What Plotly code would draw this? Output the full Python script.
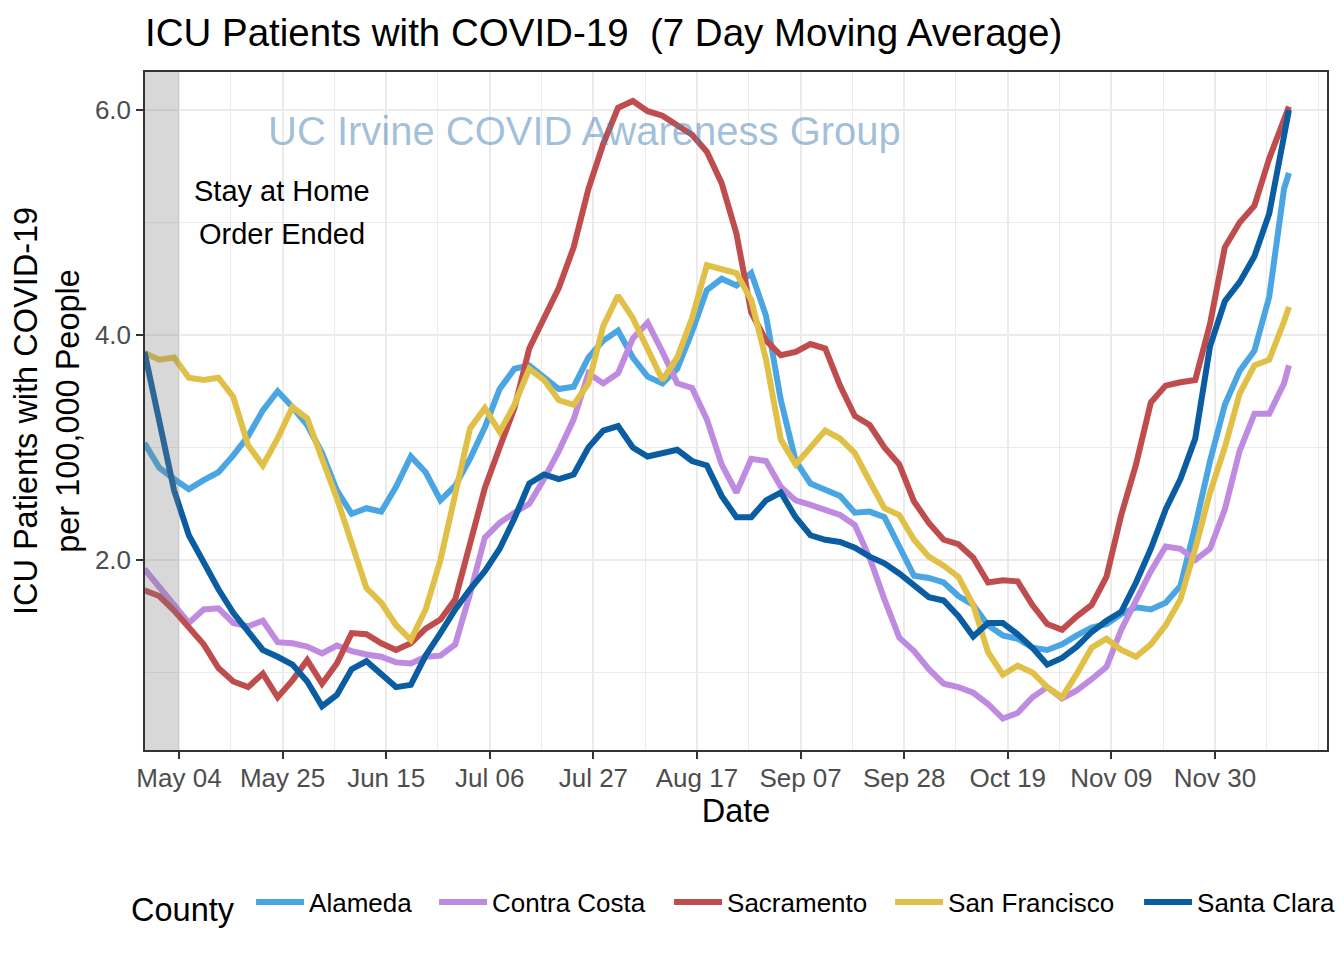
import pandas as pd
import plotly.graph_objects as go

# ---- data (7-day moving average ICU patients per 100k), sampled every 3 days ----
dates = list(pd.date_range("2020-04-27", "2020-12-14", freq="3D").strftime("%Y-%m-%d")) + ["2020-12-15"]

counties = ["Alameda", "Contra Costa", "Sacramento", "San Francisco", "Santa Clara"]

alameda = [3.04, 2.82, 2.72, 2.63, 2.71, 2.78, 2.93, 3.1, 3.33, 3.5,
           3.36, 3.2, 2.95, 2.62, 2.41, 2.46, 2.43, 2.65, 2.92, 2.78,
           2.53, 2.66, 2.9, 3.18, 3.52, 3.7, 3.73, 3.62, 3.52, 3.54,
           3.8, 3.95, 4.04, 3.8, 3.63, 3.57, 3.7, 4.03, 4.4, 4.5,
           4.44, 4.55, 4.17, 3.42, 2.88, 2.68, 2.62, 2.57, 2.42, 2.43,
           2.38, 2.12, 1.86, 1.84, 1.8, 1.68, 1.6, 1.42, 1.33, 1.3,
           1.22, 1.2, 1.25, 1.33, 1.4, 1.43, 1.52, 1.58, 1.56, 1.62,
           1.77, 2.3, 2.88, 3.38, 3.68, 3.86, 4.34, 5.3, 5.44]

contra_costa = [1.92, 1.75, 1.6, 1.44, 1.56, 1.57, 1.44, 1.41, 1.46, 1.27,
                1.26, 1.23, 1.17, 1.24, 1.19, 1.16, 1.14, 1.09, 1.08, 1.14,
                1.15, 1.25, 1.7, 2.2, 2.33, 2.42, 2.5, 2.72, 2.97, 3.25,
                3.66, 3.57, 3.66, 3.97, 4.11, 3.85, 3.57, 3.53, 3.25, 2.85,
                2.6, 2.9, 2.88, 2.65, 2.53, 2.49, 2.45, 2.4, 2.31, 2.02,
                1.65, 1.31, 1.19, 1.03, 0.9, 0.87, 0.82, 0.72, 0.59, 0.64,
                0.78, 0.87, 0.77, 0.84, 0.94, 1.05, 1.38, 1.64, 1.9, 2.12,
                2.1, 2.0, 2.1, 2.45, 2.97, 3.3, 3.3, 3.57, 3.73]

sacramento = [1.73, 1.68, 1.55, 1.4, 1.25, 1.04, 0.92, 0.87, 0.99, 0.78,
              0.93, 1.11, 0.9, 1.08, 1.35, 1.34, 1.26, 1.2, 1.26, 1.39,
              1.47, 1.65, 2.15, 2.64, 3.0, 3.35, 3.88, 4.15, 4.42, 4.78,
              5.3, 5.7, 6.02, 6.08, 5.99, 5.95, 5.87, 5.78, 5.63, 5.35,
              4.9, 4.2, 3.95, 3.82, 3.85, 3.92, 3.88, 3.55, 3.28, 3.2,
              3.0, 2.85, 2.52, 2.33, 2.18, 2.14, 2.02, 1.8, 1.82, 1.81,
              1.6, 1.43, 1.38, 1.5, 1.6, 1.85, 2.4, 2.85, 3.4, 3.55,
              3.58, 3.6, 4.1, 4.78, 5.0, 5.15, 5.57, 5.92, 6.03]

san_francisco = [3.84, 3.78, 3.8, 3.62, 3.6, 3.62, 3.45, 3.02, 2.84, 3.08,
                 3.36, 3.26, 2.9, 2.55, 2.15, 1.75, 1.62, 1.42, 1.29, 1.56,
                 2.0, 2.58, 3.17, 3.35, 3.14, 3.38, 3.7, 3.6, 3.42, 3.38,
                 3.57, 4.08, 4.35, 4.15, 3.87, 3.6, 3.8, 4.15, 4.62, 4.58,
                 4.55, 4.31, 3.78, 3.07, 2.85, 3.0, 3.15, 3.08, 2.95, 2.7,
                 2.46, 2.4, 2.18, 2.03, 1.95, 1.85, 1.6, 1.18, 0.98, 1.06,
                 1.0, 0.87, 0.78, 0.99, 1.22, 1.3, 1.2, 1.14, 1.25, 1.42,
                 1.65, 2.1, 2.6, 3.0, 3.48, 3.73, 3.78, 4.12, 4.25]

santa_clara = [3.85, 3.25, 2.62, 2.22, 1.98, 1.74, 1.53, 1.37, 1.2, 1.14,
               1.07, 0.92, 0.7, 0.8, 1.03, 1.1, 0.98, 0.87, 0.89, 1.15,
               1.35, 1.56, 1.74, 1.9, 2.1, 2.37, 2.68, 2.76, 2.72, 2.76,
               3.0, 3.15, 3.19, 3.0, 2.92, 2.95, 2.98, 2.88, 2.84, 2.57,
               2.38, 2.38, 2.53, 2.6, 2.38, 2.22, 2.18, 2.16, 2.11, 2.03,
               1.97, 1.88, 1.78, 1.67, 1.64, 1.5, 1.32, 1.44, 1.44, 1.34,
               1.22, 1.07, 1.13, 1.23, 1.36, 1.46, 1.54, 1.8, 2.1, 2.45,
               2.72, 3.08, 3.9, 4.3, 4.47, 4.7, 5.08, 5.75, 6.0]

# x-axis breaks every 3 weeks (labels), as in the original chart
x_tick_dates = ["2020-05-04", "2020-05-25", "2020-06-15", "2020-07-06", "2020-07-27",
                "2020-08-17", "2020-09-07", "2020-09-28", "2020-10-19", "2020-11-09",
                "2020-11-30"]
order_end_date = "2020-05-04"
x_range = ["2020-04-27 02:40", "2020-12-22 17:00"]
y_range = [0.311, 6.338]

series = [alameda, contra_costa, sacramento, san_francisco, santa_clara]
colors = ["#4AA6E2", "#BF8BE1", "#BF4D4D", "#E1C048", "#0B5DA2"]
legend_widths = [120, 172, 158, 186, 140]

DAY = 86400000
FONT = "Liberation Sans, Arial, Helvetica, sans-serif"

# the page adds an 8px body margin; size the figure so the panel lands where it should
W, H = 1336, 952
OFF = 8

fig = go.Figure()
for name, vals, col, lw in zip(counties, series, colors, legend_widths):
    fig.add_trace(go.Scatter(
        x=dates, y=vals, name=name, mode="lines",
        line=dict(color=col, width=6),
        legendwidth=lw,
    ))

# shaded "stay at home" period
fig.add_shape(type="rect", xref="x", yref="paper",
              x0=x_range[0], x1=order_end_date, y0=0, y1=1,
              fillcolor="rgba(127,127,127,0.3)", line=dict(width=0), layer="above")

fig.add_annotation(x="2020-05-24 19:00", y=5.28, text="Stay at Home", showarrow=False,
                   font=dict(size=29, color="black", family=FONT))
fig.add_annotation(x="2020-05-24 19:00", y=4.90, text="Order Ended", showarrow=False,
                   font=dict(size=29, color="black", family=FONT))
fig.add_annotation(x="2020-07-25 05:00", y=5.81, text="UC Irvine COVID Awareness Group",
                   showarrow=False, font=dict(size=40, color="rgba(70,130,180,0.5)", family=FONT))

grid_major = "#EBEBEB"
fig.update_layout(
    width=W, height=H,
    margin=dict(l=145 - OFF, r=17, t=72 - OFF, b=210, autoexpand=False),
    paper_bgcolor="white", plot_bgcolor="white",
    font=dict(family=FONT, color="black"),
    title=dict(text="ICU Patients with COVID-19\u00a0 (7 Day Moving Average)",
               x=(145 - OFF) / W, xanchor="left", xref="container",
               y=1 - (33 - OFF) / H, yanchor="middle", yref="container",
               font=dict(size=38.5, color="black", family=FONT)),
    xaxis=dict(
        type="date", range=x_range,
        tickmode="array", tickvals=x_tick_dates, tickformat="%b %d",
        ticks="outside", ticklen=7, tickwidth=1.5, tickcolor="#333333",
        ticklabelstandoff=-3,
        tickfont=dict(size=26, color="#4D4D4D", family=FONT),
        showgrid=True, gridcolor=grid_major, gridwidth=2,
        minor=dict(tickmode="linear", tick0="2020-05-04", dtick=10.5 * DAY,
                   showgrid=True, gridcolor=grid_major, gridwidth=1, ticks=""),
        showline=True, linecolor="#333333", linewidth=1.5, mirror=True,
        zeroline=False,
        title=dict(text="Date", font=dict(size=32.5, color="black", family=FONT), standoff=5),
    ),
    yaxis=dict(
        range=y_range, tick0=0, dtick=2, tickformat=".1f",
        ticks="outside", ticklen=7, tickwidth=1.5, tickcolor="#333333",
        tickfont=dict(size=26, color="#4D4D4D", family=FONT),
        showgrid=True, gridcolor=grid_major, gridwidth=2,
        minor=dict(dtick=1, showgrid=True, gridcolor=grid_major, gridwidth=1, ticks=""),
        showline=True, linecolor="#333333", linewidth=1.5, mirror=True,
        zeroline=False,
        title=dict(text="ICU Patients with COVID-19<br>per 100,000 People",
                   font=dict(size=32.5, color="black", family=FONT), standoff=6),
    ),
    legend=dict(
        orientation="h", x=-0.0135, xanchor="left", y=-0.2286, yanchor="middle",
        title=dict(text="County\u00a0", font=dict(size=32.5, color="black", family=FONT)),
        font=dict(size=26, color="black", family=FONT),
        bgcolor="rgba(0,0,0,0)", traceorder="normal", itemwidth=48,
    ),
    showlegend=True,
)

fig.write_html("out.html")
